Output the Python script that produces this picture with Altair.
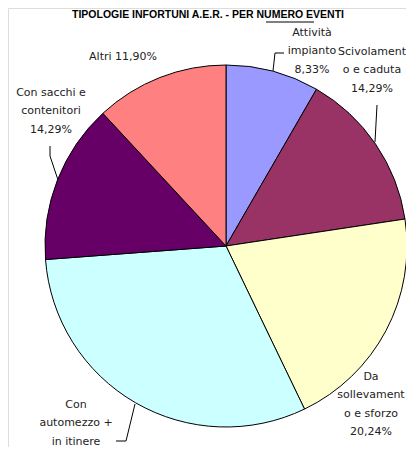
import altair as alt
import pandas as pd

# ---- data ----
categories = ["Attività impianto", "Scivolamento e caduta", "Da sollevamento e sforzo",
              "Con automezzo + in itinere", "Con sacchi e contenitori", "Altri"]
counts = [7, 12, 17, 26, 12, 10]
colors = ["#9999FF", "#993366", "#FFFFCC", "#CCFFFF", "#660066", "#FF8080"]
label_texts = [
    "Attività\nimpianto\n8,33%",
    "Scivolament\no e caduta\n14,29%",
    "Da\nsollevament\no e sforzo\n20,24%",
    "Con\nautomezzo +\nin itinere",
    "Con sacchi e\ncontenitori\n14,29%",
    "Altri 11,90%",
]
title_text = "TIPOLOGIE INFORTUNI A.E.R. - PER NUMERO EVENTI"

df = pd.DataFrame({"categoria": categories, "n": counts, "idx": list(range(len(categories)))})

W, H = 398, 439
CX, CY, R = 218, 238, 181

pie = alt.Chart(df).mark_arc(radius=R, stroke="black", strokeWidth=1).encode(
    theta=alt.Theta("n:Q", stack=True),
    order=alt.Order("idx:Q"),
    color=alt.Color("categoria:N", scale=alt.Scale(domain=categories, range=colors), legend=None),
    x=alt.value(CX),
    y=alt.value(CY),
)

# label placement (chart pixel coords: centre x, first-line centre y)
label_pos = [(304, 25), (364, 44), (363, 369), (68, 397), (43, 85), (115, 49)]
base1 = alt.Chart(pd.DataFrame({"k": [0]}))
layers = [pie]
for txt, (lx, ly) in zip(label_texts, label_pos):
    layers.append(
        base1.mark_text(font="DejaVu Sans", fontSize=11, color="#222222", align="center",
                        baseline="middle", lineBreak="\n", lineHeight=18.3).encode(
            x=alt.value(lx), y=alt.value(ly), text=alt.value(txt))
    )

# leader lines
segments = [
    (265, 63, 267, 45), (267, 45, 276, 45),
    (367, 134, 369, 97),
    (42, 138, 42, 148), (42, 148, 50, 172),
    (127, 396, 118, 433), (118, 433, 108, 433),
]
for x1, y1, x2, y2 in segments:
    layers.append(
        base1.mark_rule(color="black", strokeWidth=1).encode(
            x=alt.value(x1), y=alt.value(y1), x2=alt.value(x2), y2=alt.value(y2))
    )

# title + underline
layers.append(
    base1.mark_text(font="Liberation Sans", fontSize=10.5, fontWeight="bold", color="black",
                    align="center", baseline="middle").encode(
        x=alt.value(200), y=alt.value(7), text=alt.value(title_text))
)
layers.append(
    base1.mark_rule(color="black", strokeWidth=1).encode(
        x=alt.value(258), x2=alt.value(306), y=alt.value(14), y2=alt.value(14))
)

chart = alt.layer(*layers).properties(
    width=W, height=H, autosize=alt.AutoSizeParams(type="none"), padding=0
).configure_view(stroke=None).configure(background="white")

chart.save("out.html", embed_options={"renderer": "svg", "actions": False})
